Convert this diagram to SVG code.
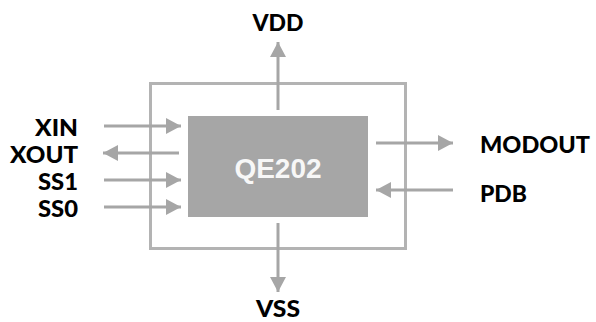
<svg xmlns="http://www.w3.org/2000/svg" width="596" height="322" viewBox="0 0 596 322">
<style>
.lbl{font-family:Lato,"Open Sans","Liberation Sans",sans-serif;font-weight:900;font-size:22.5px;fill:#000}
.conn{stroke:#a6a6a6;stroke-width:3;fill:none}
</style>
<defs>
<marker id="ah" viewBox="0 0 15 16" refX="15" refY="8" markerWidth="15" markerHeight="16" markerUnits="userSpaceOnUse" orient="auto">
<path d="M0,0 L15,8 L0,16 Z" fill="#a6a6a6"/>
</marker>
</defs>
<rect width="596" height="322" fill="#fff"/>
<g id="package">
<rect x="150.5" y="83.5" width="255" height="165" fill="none" stroke="#b3b3b3" stroke-width="3"/>
</g>
<g id="chip">
<rect x="188" y="116" width="180" height="101" fill="#a6a6a6"/>
<text x="278" y="178" text-anchor="middle" font-family="'Liberation Sans',Arial,sans-serif" font-weight="bold" font-size="28" fill="#f7f7f7">QE202</text>
</g>
<g id="connectors">
<line class="conn" x1="278" y1="110" x2="278" y2="42" marker-end="url(#ah)"/>
<line class="conn" x1="278" y1="223" x2="278" y2="292" marker-end="url(#ah)"/>
<line class="conn" x1="104" y1="126" x2="181" y2="126" marker-end="url(#ah)"/>
<line class="conn" x1="179" y1="153" x2="103" y2="153" marker-end="url(#ah)"/>
<line class="conn" x1="104" y1="180" x2="181" y2="180" marker-end="url(#ah)"/>
<line class="conn" x1="104" y1="207" x2="181" y2="207" marker-end="url(#ah)"/>
<line class="conn" x1="376" y1="143" x2="453" y2="143" marker-end="url(#ah)"/>
<line class="conn" x1="453" y1="190" x2="376" y2="190" marker-end="url(#ah)"/>
</g>
<g id="VDD"><text class="lbl" x="278" y="31" text-anchor="middle" textLength="51" lengthAdjust="spacingAndGlyphs">VDD</text></g>
<g id="VSS"><text class="lbl" x="278" y="317" text-anchor="middle" textLength="44" lengthAdjust="spacingAndGlyphs">VSS</text></g>
<g id="XIN"><text class="lbl" x="78" y="136" text-anchor="end" textLength="43" lengthAdjust="spacingAndGlyphs">XIN</text></g>
<g id="XOUT"><text class="lbl" x="78" y="163" text-anchor="end" textLength="68" lengthAdjust="spacingAndGlyphs">XOUT</text></g>
<g id="SS1"><text class="lbl" x="78" y="190" text-anchor="end" textLength="40" lengthAdjust="spacingAndGlyphs">SS1</text></g>
<g id="SS0"><text class="lbl" x="78" y="217" text-anchor="end" textLength="40" lengthAdjust="spacingAndGlyphs">SS0</text></g>
<g id="MODOUT"><text class="lbl" x="480" y="153" text-anchor="start" textLength="110" lengthAdjust="spacingAndGlyphs">MODOUT</text></g>
<g id="PDB"><text class="lbl" x="480" y="201.5" text-anchor="start" textLength="47" lengthAdjust="spacingAndGlyphs">PDB</text></g>
</svg>
